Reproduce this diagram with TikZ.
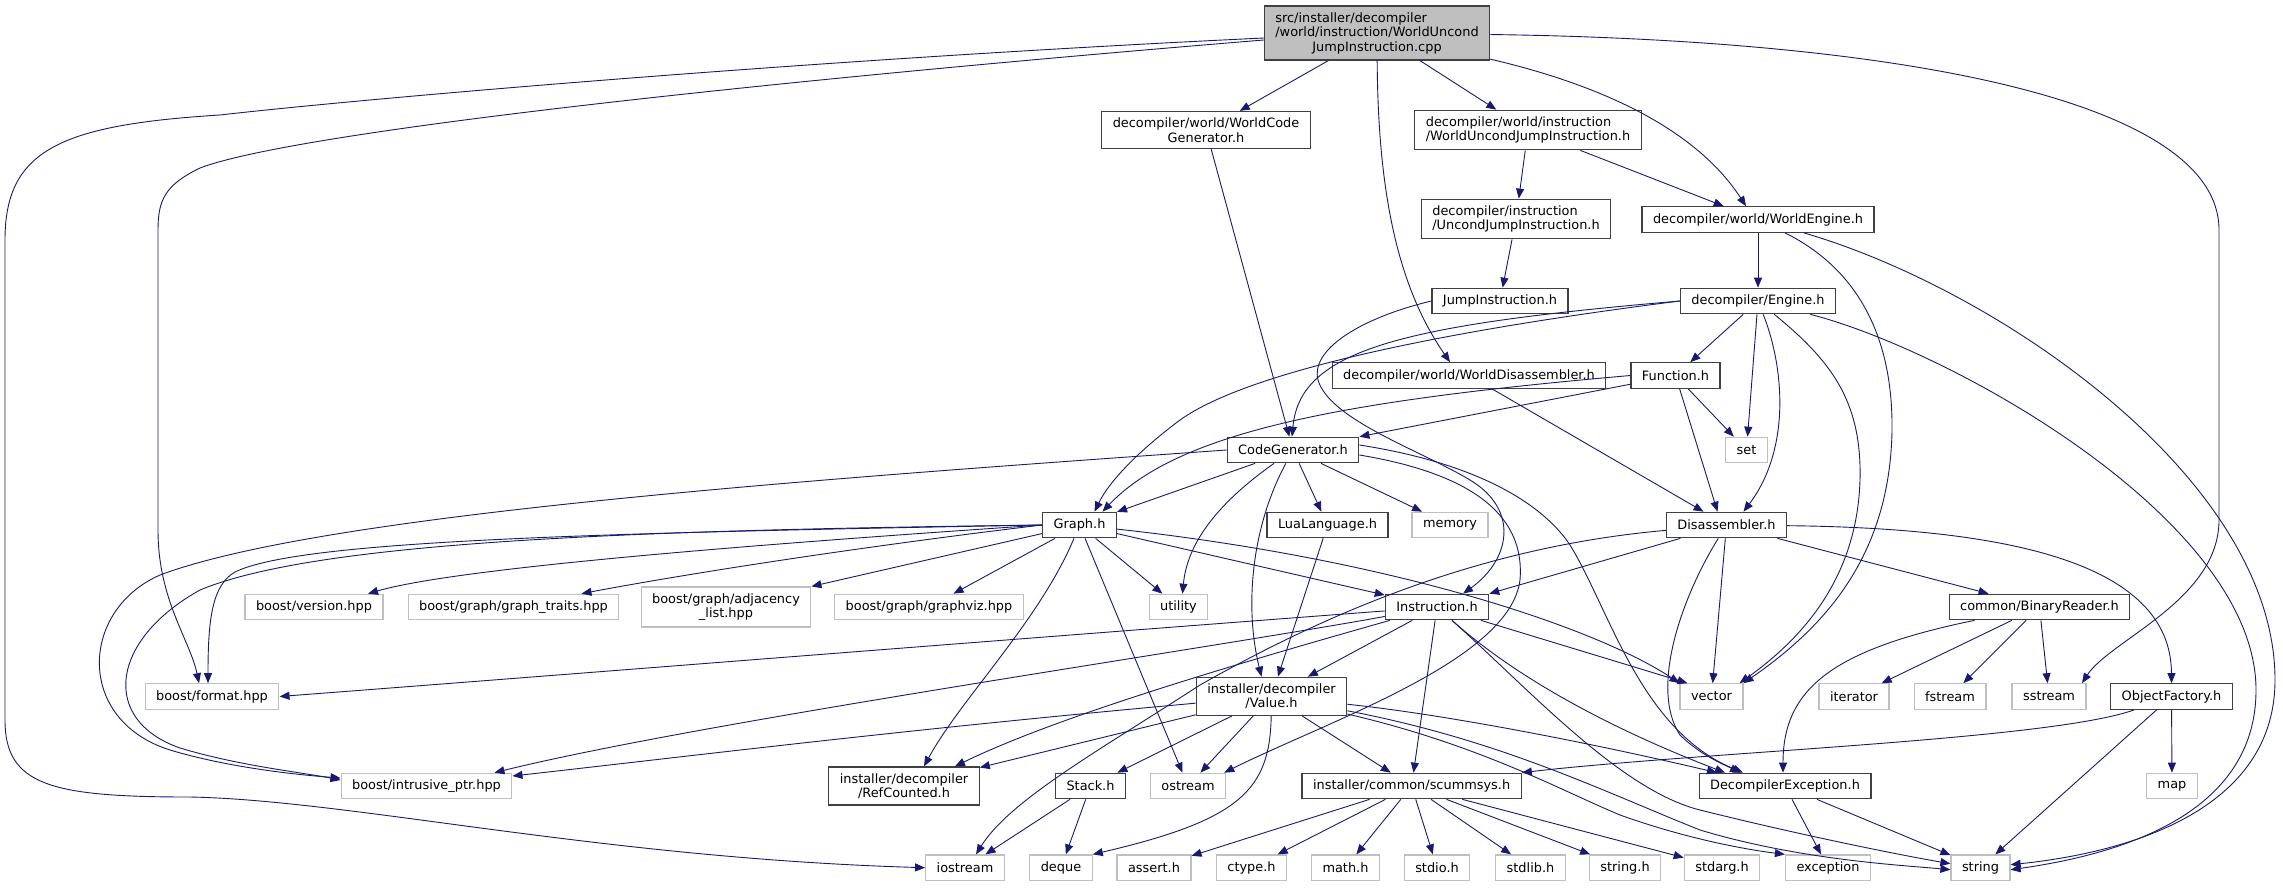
\documentclass[tikz,border=0pt]{standalone}
\usepackage{fontspec}
\setmainfont{DejaVu Sans}
\usetikzlibrary{calc,arrows.meta}
\definecolor{depblue}{HTML}{191970}
\definecolor{boxgrey}{HTML}{404040}
\definecolor{sysgrey}{HTML}{BFBFBF}
\definecolor{srcgrey}{HTML}{BFBFBF}

\begin{document}
\begin{tikzpicture}[>={Triangle[length=10pt,width=8pt]}, x=1pt, y=-1pt]
  \tikzset{
    box/.style={rectangle, line width=1.2pt, inner xsep=11pt, inner ysep=6.3pt, minimum height=25.5pt, align=left, font=\fontsize{12.9}{14.5}\selectfont},
    hdrbox/.style={box, draw=boxgrey, fill=white},
    sysbox/.style={box, draw=sysgrey, fill=white},
    srcbox/.style={box, draw=boxgrey, fill=srcgrey},
    dep/.style={->, draw=depblue, fill=none, line width=0.9pt},
  }
  \useasboundingbox (0,0) rectangle (2283,887);

  % project headers
  \node (cpp) at (1377,33) [srcbox] {src/installer/decompiler\\/world/instruction/WorldUncond\\\hfil JumpInstruction.cpp};
  \node (wcg) at (1206,130) [hdrbox] {decompiler/world/WorldCode\\\hfil Generator.h};
  \node (wujh) at (1528,130) [hdrbox] {decompiler/world/instruction\\/WorldUncondJumpInstruction.h};
  \node (ujh) at (1516,219) [hdrbox] {decompiler/instruction\\/UncondJumpInstruction.h};
  \node (weng) at (1758,219.5) [hdrbox] {decompiler/world/WorldEngine.h};
  \node (jump) at (1500,301) [hdrbox] {JumpInstruction.h};
  \node (eng) at (1758,301) [hdrbox] {decompiler/Engine.h};
  \node (wdis) at (1469,375.5) [hdrbox] {decompiler/world/WorldDisassembler.h};
  \node (func) at (1675.5,375.5) [hdrbox] {Function.h};
  \node (cg) at (1293,450) [hdrbox] {CodeGenerator.h};
  \node (graph) at (1079.5,525) [hdrbox] {Graph.h};
  \node (lua) at (1327.5,525) [hdrbox] {LuaLanguage.h};
  \node (dis) at (1726.5,525) [hdrbox] {Disassembler.h};
  \node (instr) at (1437,607) [hdrbox] {Instruction.h};
  \node (breader) at (2039.5,607) [hdrbox] {common/BinaryReader.h};
  \node (value) at (1271.5,696.3) [hdrbox] {installer/decompiler\\\hfil /Value.h};
  \node (objf) at (2171.5,696.5) [hdrbox] {ObjectFactory.h};
  \node (refc) at (904,786) [hdrbox] {installer/decompiler\\\hfil /RefCounted.h};
  \node (stack) at (1090.5,786) [hdrbox] {Stack.h};
  \node (scumm) at (1411.6,786) [hdrbox] {installer/common/scummsys.h};
  \node (dexc) at (1785,786) [hdrbox] {DecompilerException.h};

  % system headers
  \node (set) at (1746.5,450) [sysbox] {set};
  \node (memory) at (1450,525) [sysbox] {memory};
  \node (version) at (314,607) [sysbox] {boost/version.hpp};
  \node (traits) at (513.5,607) [sysbox] {boost/graph/graph\_traits.hpp};
  \node (adj) at (726,607) [sysbox] {boost/graph/adjacency\\\hfil \_list.hpp};
  \node (gviz) at (929,607) [sysbox] {boost/graph/graphviz.hpp};
  \node (utility) at (1178.5,607) [sysbox] {utility};
  \node (format) at (212,696.5) [sysbox] {boost/format.hpp};
  \node (vector) at (1711.5,696.5) [sysbox] {vector};
  \node (iterator) at (1854,696.5) [sysbox] {iterator};
  \node (fstream) at (1950,696.5) [sysbox] {fstream};
  \node (sstream) at (2049,696.5) [sysbox] {sstream};
  \node (intr) at (426.5,786) [sysbox] {boost/intrusive\_ptr.hpp};
  \node (ostream) at (1188,786) [sysbox] {ostream};
  \node (map) at (2172,786) [sysbox] {map};
  \node (iostream) at (965,867.7) [sysbox] {iostream};
  \node (deque) at (1061,867.7) [sysbox] {deque};
  \node (assert) at (1154,867.7) [sysbox] {assert.h};
  \node (ctype) at (1251.5,867.7) [sysbox] {ctype.h};
  \node (math) at (1345.5,867.7) [sysbox] {math.h};
  \node (stdio) at (1437,867.7) [sysbox] {stdio.h};
  \node (stdlib) at (1530.5,867.7) [sysbox] {stdlib.h};
  \node (stringh) at (1625,867.7) [sysbox] {string.h};
  \node (stdarg) at (1722,867.7) [sysbox] {stdarg.h};
  \node (exception) at (1828,867.7) [sysbox] {exception};
  \node (string) at (1980.5,867.7) [sysbox] {string};

  % includes of the source file
  \draw [dep] ($(cpp.west)+(0,5)$) .. controls (800,60) and (350,100) .. (220,115) .. controls (60,125) and (5,150) .. (5,240) -- (5,720) .. controls (5,785) and (50,797) .. (190,797) .. controls (350,800) and (600,858) .. (iostream.west);
  \draw [dep] ($(cpp.west)+(0,7)$) .. controls (800,78) and (300,130) .. (200,168) .. controls (165,185) and (158,200) .. (158,230) -- (158,530) .. controls (158,600) and (190,640) .. ($(format.north)+(-13,0)$);
  \draw [dep] (cpp) -- (wcg);
  \draw [dep] (cpp) -- (wujh);
  \draw [dep] (cpp) .. controls (1378,200) and (1400,290) .. ($(wdis.north)+(-19,0)$);
  \draw [dep] (cpp) .. controls (1580,80) and (1690,120) .. ($(weng.north)+(-12,0)$);
  \draw [dep] (cpp) .. controls (1900,40) and (2219,100) .. (2219,230) -- (2219,520) .. controls (2219,600) and (2110,640) .. ($(sstream.north)+(33,0)$);

  % world layer
  \draw [dep] (wcg) -- (cg);
  \draw [dep] (wujh) -- (ujh);
  \draw [dep] (wujh) -- (weng);
  \draw [dep] (ujh) -- (jump);
  \draw [dep] (wdis) -- (dis);
  \draw [dep] (weng) -- (eng);
  \draw [dep] (weng) .. controls (1860,270) and (1893,340) .. (1892,430) .. controls (1890,560) and (1820,630) .. (vector.north east);
  \draw [dep] (weng) .. controls (2000,290) and (2275,480) .. (2275,680) .. controls (2275,800) and (2150,850) .. ($(string.east)+(0,-3)$);

  % engine
  \draw [dep] (eng) -- (func);
  \draw [dep] (eng) -- (set);
  \draw [dep] (eng) .. controls (1785,370) and (1790,450) .. ($(dis.north)+(17,0)$);
  \draw [dep] (eng) .. controls (1830,360) and (1862,400) .. (1860,480) .. controls (1857,580) and (1800,640) .. ($(vector.north east)+(-4,0)$);
  \draw [dep] (eng) .. controls (1950,350) and (2256,520) .. (2256,690) .. controls (2256,800) and (2150,850) .. ($(string.east)+(0,2)$);
  \draw [dep] (eng.west) .. controls (1450,330) and (1250,370) .. (1180,420) .. controls (1140,450) and (1110,480) .. ($(graph.north)+(15,0)$);
  \draw [dep] (eng.west) .. controls (1400,325) and (1300,350) .. ($(cg.north)+(-1,0)$);
  \draw [dep] (func) -- (cg.north east);
  \draw [dep] (func.west) .. controls (1350,400) and (1180,430) .. ($(graph.north)+(23,0)$);
  \draw [dep] (func) -- (set);
  \draw [dep] (func) -- ($(dis.north)+(-9,0)$);
  \draw [dep] (jump.west) .. controls (1360,318) and (1310,350) .. (1318,380) .. controls (1330,420) and (1420,450) .. (1470,480) .. controls (1520,510) and (1510,560) .. ($(instr.north)+(26,0)$);

  % code generator
  \draw [dep] (cg) -- (graph);
  \draw [dep] (cg) .. controls (1215,505) and (1187,545) .. ($(utility.north)+(4,0)$);
  \draw [dep] (cg) .. controls (1250,530) and (1245,610) .. ($(value.north)+(-10,0)$);
  \draw [dep] (cg) -- (lua);
  \draw [dep] (cg) -- (memory);
  \draw [dep] (cg.west) .. controls (800,480) and (320,515) .. (160,575) .. controls (80,610) and (75,720) .. (170,750) .. controls (230,768) and (300,775) .. ($(intr.west)+(0,-8)$);
  \draw [dep] ($(cg.east)+(0,-5)$) .. controls (1470,462) and (1540,500) .. (1570,545) .. controls (1610,610) and (1640,730) .. ($(dexc.north)+(-42,0)$);
  \draw [dep] ($(cg.east)+(0,5)$) .. controls (1480,475) and (1525,520) .. (1520,580) .. controls (1510,660) and (1330,720) .. ($(ostream.north east)+(-2,0)$);
  \draw [dep] (lua) -- (value);

  % graph
  \draw [dep] (graph.west) .. controls (650,530) and (320,540) .. (200,590) .. controls (110,640) and (100,720) .. (180,748) .. controls (240,766) and (300,772) .. ($(intr.west)+(0,-6)$);
  \draw [dep] (graph.west) .. controls (600,533) and (300,540) .. (235,572) .. controls (212,585) and (208,620) .. ($(format.north)+(-4,0)$);
  \draw [dep] (graph.west) .. controls (700,548) and (450,570) .. ($(version.north)+(54,0)$);
  \draw [dep] (graph.west) .. controls (850,548) and (680,575) .. ($(traits.north)+(68,0)$);
  \draw [dep] (graph) -- (adj.north east);
  \draw [dep] (graph) -- (gviz);
  \draw [dep] (graph) -- (utility);
  \draw [dep] (graph) -- (instr);
  \draw [dep] (graph) .. controls (1400,560) and (1600,630) .. (vector.north west);
  \draw [dep] (graph) .. controls (1040,620) and (960,700) .. ($(refc.north)+(20,0)$);
  \draw [dep] (graph) -- (ostream);

  % instruction
  \draw [dep] (instr) .. controls (1000,640) and (600,672) .. (format.east);
  \draw [dep] (instr) .. controls (1200,650) and (700,722) .. ($(intr.north east)+(-18,0)$);
  \draw [dep] (instr) .. controls (1250,660) and (1060,715) .. ($(refc.north)+(51,0)$);
  \draw [dep] (instr) -- (value);
  \draw [dep] (instr) -- (scumm);
  \draw [dep] (instr) -- ($(vector.north west)+(8,0)$);
  \draw [dep] (instr) .. controls (1530,690) and (1640,740) .. ($(dexc.north)+(-60,0)$);
  \draw [dep] (instr) .. controls (1530,690) and (1620,790) .. (1700,810) .. controls (1800,835) and (1900,855) .. ($(string.west)+(0,-4)$);

  % value
  \draw [dep] (value) .. controls (900,730) and (700,755) .. ($(intr.east)+(0,-10)$);
  \draw [dep] (value) -- (refc);
  \draw [dep] (value) -- (stack);
  \draw [dep] (value) -- (ostream);
  \draw [dep] (value) .. controls (1270,790) and (1240,820) .. (deque.north east);
  \draw [dep] (value) -- (scumm);
  \draw [dep] (value) .. controls (1450,715) and (1600,745) .. ($(dexc.north)+(-68,0)$);
  \draw [dep] (value) .. controls (1500,740) and (1600,790) .. (1700,830) .. controls (1800,860) and (1900,865) .. ($(string.west)+(0,2)$);
  \draw [dep] (value) .. controls (1480,745) and (1560,790) .. (1620,815) .. controls (1690,840) and (1750,850) .. (exception.north west);
  \draw [dep] (stack) -- (iostream);
  \draw [dep] (stack) -- (deque);

  % scummsys
  \foreach \h in {assert,ctype,math,stdio,stdlib,stringh,stdarg}
    \draw [dep] (scumm) -- (\h);

  % disassembler
  \draw [dep] (dis) -- (instr.north east);
  \draw [dep] (dis) .. controls (1500,545) and (1350,600) .. (1200,685) .. controls (1100,750) and (1010,800) .. ($(iostream.north)+(11,0)$);
  \draw [dep] (dis) -- (vector);
  \draw [dep] (dis) .. controls (1680,600) and (1650,690) .. (1680,735) .. controls (1700,755) and (1725,765) .. ($(dexc.north)+(-45,0)$);
  \draw [dep] (dis) -- (breader);
  \draw [dep] (dis) .. controls (2000,528) and (2171,560) .. (objf.north);
  \draw [dep] (breader) .. controls (1830,650) and (1783,690) .. ($(dexc.north)+(-2,0)$);
  \draw [dep] (breader) -- (iterator);
  \draw [dep] (breader) -- (fstream);
  \draw [dep] (breader) -- (sstream);
  \draw [dep] (objf) .. controls (2050,740) and (1700,752) .. (scumm.north east);
  \draw [dep] (objf) -- (map);
  \draw [dep] (objf) -- (string);
  \draw [dep] (dexc) -- (exception);
  \draw [dep] (dexc) -- (string);
\end{tikzpicture}
\end{document}
